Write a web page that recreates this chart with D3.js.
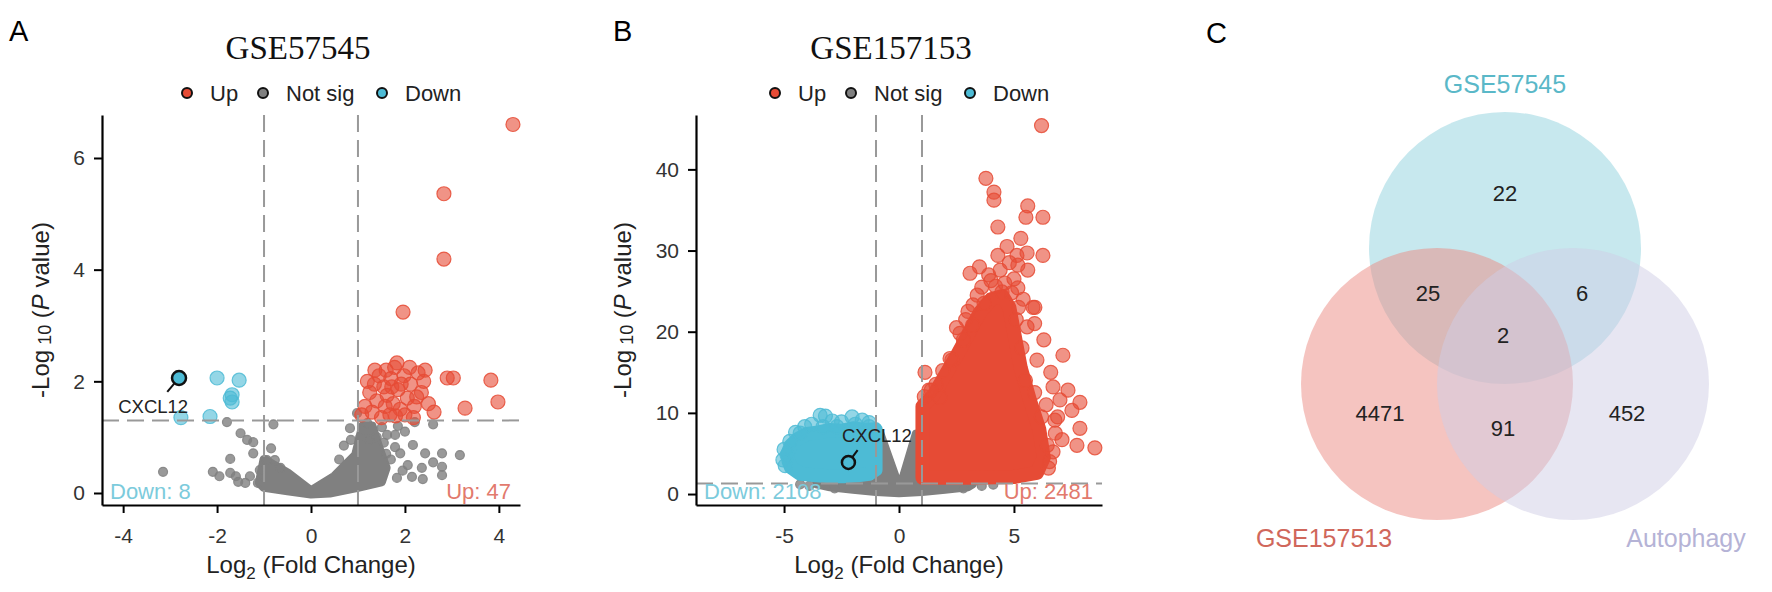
<!DOCTYPE html>
<html>
<head>
<meta charset="utf-8">
<script src="https://cdn.jsdelivr.net/npm/d3@7"></script>
<style>
body { margin: 0; background: #fff; }
text { font-family: "Liberation Sans", Arial, sans-serif; }
</style>
</head>
<body>
<script>
// values: [log2 fold change, -log10 p]

var legendLabels = ["Up", "Not sig", "Down"];
var panelTitles = ["GSE57545", "GSE157153"];
var panelLetters = ["A", "B", "C"];

var xTicksA = [-4, -2, 0, 2, 4];
var yTicksA = [0, 2, 4, 6];
var xTicksB = [-5, 0, 5];
var yTicksB = [0, 10, 20, 30, 40];

var fcCut = 1, pCut = 1.3;
var countsA = [8, 47];      // down, up
var countsB = [2108, 2481]; // down, up

// GSE57545
var upA = [
	[4.3, 6.6], [2.83, 5.36], [2.83, 4.19], [1.96, 3.24], [3.83, 2.02], [3.98, 1.63],
	[2.9, 2.06], [3.03, 2.06], [3.28, 1.52], [2.62, 1.45], [1.83, 2.33], [1.36, 2.2],
	[2.43, 2.2], [1.2, 2.0], [1.15, 1.55], [1.3, 1.45], [1.45, 2.1], [1.55, 1.9],
	[1.62, 1.75], [1.7, 2.05], [1.75, 1.6], [1.85, 1.85], [1.9, 1.5], [1.98, 2.1],
	[2.05, 1.7], [2.12, 1.95], [2.2, 1.55], [2.28, 2.15], [2.35, 1.8], [1.25, 1.8],
	[1.4, 1.65], [1.5, 1.35], [1.6, 2.2], [1.68, 1.4], [1.78, 2.25], [1.92, 1.95],
	[2.0, 1.4], [2.1, 2.25], [2.18, 1.35], [2.5, 1.6], [1.35, 1.95], [1.08, 1.4],
	[1.58, 1.55], [1.8, 1.38], [2.25, 1.72], [1.72, 1.9], [2.4, 2.0]
];
var downA = [
	[-2.0, 2.06], [-1.53, 2.02], [-1.68, 1.76], [-1.68, 1.63], [-1.72, 1.7],
	[-2.77, 1.35], [-2.15, 1.37], [-2.81, 2.06]
];
var notSigA = [
	[-3.15, 0.38], [-2.09, 0.38], [-1.72, 0.61], [-1.72, 0.36], [-1.55, 0.2], [-1.4, 0.18],
	[-1.13, 0.18], [-1.23, 0.71], [-1.5, 1.07], [-1.36, 0.95], [-1.23, 0.91], [-1.79, 1.27],
	[-0.8, 1.23], [-0.94, 0.59], [-0.77, 0.59], [-1.09, 0.41], [-1.95, 0.3], [-1.6, 0.3],
	[-0.65, 0.45], [-0.85, 0.8], [-1.3, 0.3],
	[2.21, 1.27], [2.6, 1.23], [2.17, 0.86], [2.43, 0.71], [2.79, 0.71], [3.17, 0.68],
	[2.06, 0.5], [2.36, 0.45], [2.79, 0.47], [2.15, 0.29], [2.38, 0.25], [2.79, 0.32],
	[1.83, 0.27], [1.79, 0.82], [1.62, 1.04], [1.79, 1.04], [1.9, 0.71], [0.83, 1.16],
	[0.98, 1.43], [1.51, 1.18], [1.7, 0.6], [1.55, 0.9], [2.0, 1.1], [1.95, 0.4],
	[1.4, 1.0], [1.25, 0.95], [0.7, 0.85], [0.85, 0.95], [1.85, 1.2], [1.05, 1.0],
	[1.2, 1.25], [0.6, 0.6], [1.6, 0.7], [2.6, 0.55]
];
// outline of the solid mass of overlapping grey points (point centres)
var notSigCoreA = [
	[-1.1, 0.18], [-1.0, 0.6], [-0.5, 0.36], [0, 0.04], [0.5, 0.3], [0.95, 0.68],
	[1.1, 1.2], [1.3, 1.2], [1.45, 0.8], [1.6, 0.45], [1.5, 0.2], [1.0, 0.1],
	[0.4, 0.0], [0, -0.02], [-0.5, 0.04], [-1.0, 0.1]
];
var cxclA = [[-2.81, 2.06], [-3.06, 1.81], [-3.36, 1.43]]; // gene, line end, label

// GSE157153
var upB = [
	[6.2, 45.4], [3.78, 38.9], [4.13, 37.2], [4.13, 36.2], [5.6, 35.5], [5.52, 34.1],
	[6.26, 34.1], [4.3, 32.9], [4.3, 29.4], [5.13, 29.4], [5.57, 29.7], [6.26, 29.4],
	[3.09, 27.2], [4.4, 27.6], [5.17, 28.2], [5.6, 27.6], [4.48, 24.9], [5.17, 25.4],
	[5.91, 23.0], [3.22, 23.3], [4.6, 26.0], [5.0, 26.5], [3.6, 25.5], [3.9, 27.0],
	[4.8, 28.5], [5.4, 24.0], [2.5, 20.5], [2.9, 21.5], [3.4, 24.5], [5.83, 23.0],
	[5.57, 20.6], [2.65, 19.8], [2.22, 16.7], [1.13, 15.0], [1.78, 11.9], [1.1, 12.0],
	[1.6, 13.5], [1.3, 12.8], [7.13, 17.1], [6.7, 13.2], [7.35, 12.8], [7.87, 11.3],
	[7.0, 11.6], [7.52, 10.3], [6.78, 9.1], [7.87, 8.1], [7.09, 6.7], [7.74, 6.0],
	[8.52, 5.7], [6.7, 5.2], [6.3, 19.0], [6.0, 16.5], [6.6, 15.0], [6.9, 9.5],
	[6.4, 11.0], [6.8, 7.5], [6.5, 3.2], [5.9, 21.0], [4.7, 30.5], [3.5, 28.0], [5.3, 31.5],
	[1.4, 12.8], [1.9, 15.2], [2.3, 16.5], [2.8, 19.0], [3.2, 20.8], [3.7, 23.5],
	[4.2, 25.6], [4.9, 24.8], [5.1, 21.5], [5.35, 18.0], [5.5, 14.0], [5.9, 12.5],
	[6.2, 9.5], [6.45, 6.0], [6.55, 4.0], [3.0, 22.5], [4.0, 26.3], [5.2, 23.0]
];
var upCoreB = [
	[1.02, 2.0], [1.02, 10.8], [1.5, 12.2], [2.0, 14.6], [2.5, 17.0], [3.0, 19.6],
	[3.5, 22.3], [4.0, 24.0], [4.5, 24.4], [4.8, 23.0], [5.0, 20.0], [5.3, 15.5],
	[5.7, 11.5], [6.1, 8.0], [6.3, 4.5], [6.0, 2.6], [5.0, 2.1], [3.0, 2.0]
];
var downB = [
	[-3.43, 9.7], [-3.2, 9.6], [-2.04, 9.5], [-2.9, 9.0], [-1.6, 9.1], [-4.1, 8.3],
	[-4.87, 4.8], [-5.05, 4.2], [-4.95, 3.5], [-2.5, 8.9], [-1.3, 8.8], [-4.5, 7.6], [-3.8, 8.6],
	[-1.3, 8.3], [-1.9, 8.6], [-2.7, 8.3], [-3.3, 8.3], [-4.3, 7.5], [-4.75, 6.5], [-5.0, 5.5]
];
var downCoreB = [
	[-1.02, 8.0], [-1.5, 7.9], [-2.0, 8.1], [-2.5, 7.8], [-3.0, 7.9], [-3.5, 7.6],
	[-4.0, 7.4], [-4.4, 6.8], [-4.7, 6.0], [-4.85, 5.0], [-4.8, 4.0], [-4.7, 3.3],
	[-4.3, 2.5], [-3.6, 2.3], [-3.0, 2.2], [-2.4, 2.2], [-1.8, 2.3], [-1.3, 2.5], [-1.02, 3.0]
];
var notSigB = [
	[-3.9, 1.0], [-4.3, 1.2], [3.6, 1.0], [4.1, 1.15], [2.8, 0.7], [-2.8, 0.7]
];
var notSigCoreB = [
	[-0.95, 7.6], [-0.85, 7.6], [-0.05, 1.2], [0.1, 1.2], [0.75, 7.4], [0.95, 7.4],
	[0.95, 1.25], [3.2, 1.25], [3.0, 0.9], [2.0, 0.6], [1.0, 0.3], [0, 0.15],
	[-1.0, 0.3], [-2.0, 0.6], [-3.0, 0.9], [-3.6, 1.25], [-0.95, 1.25]
];
var cxclB = [[-2.2, 3.9], [-1.8, 5.4], [-0.96, 6.4]];

// Venn
var vennSets = ["GSE57545", "GSE157513", "Autophagy"];
var vennCounts = [22, 25, 6, 2, 4471, 91, 452];

var col = {up: "#E64B35", ns: "#808080", down: "#4DBBD5"};

var svg = d3.select("body")
	.append("svg")
	.attr("width", 1772)
	.attr("height", 592);

//panel letters
svg.append("text").attr("x", 9).attr("y", 41).attr("font-size", 29).text(panelLetters[0]);
svg.append("text").attr("x", 613).attr("y", 41).attr("font-size", 29).text(panelLetters[1]);
svg.append("text").attr("x", 1206).attr("y", 43).attr("font-size", 29).text(panelLetters[2]);

volcano({
	left: 102, right: 520, xDomain: [-4.45, 4.45], yDomain: [-0.215, 6.77],
	xTicks: xTicksA, yTicks: yTicksA, title: panelTitles[0], titleX: 298,
	legendX: 187, ylabX: 40, up: upA, down: downA, ns: notSigA, nsCore: notSigCoreA,
	counts: countsA, cxcl: cxclA, ringR: 7
});

volcano({
	left: 696, right: 1102, xDomain: [-8.83, 8.83], yDomain: [-1.35, 46.7],
	xTicks: xTicksB, yTicks: yTicksB, title: panelTitles[1], titleX: 891,
	legendX: 775, ylabX: 622, up: upB, upCore: upCoreB, down: downB, downCore: downCoreB,
	ns: notSigB, nsCore: notSigCoreB, counts: countsB, cxcl: cxclB, ringR: 6.5
});

venn();

function volcano(c)
{// one volcano panel
	var top = 115, bottom = 505;
	var g = svg.append("g");
	var x = d3.scaleLinear().domain(c.xDomain).range([c.left, c.right]);
	var y = d3.scaleLinear().domain(c.yDomain).range([bottom, top]);
	var line = d3.line()
		.x(d => x(d[0]))
		.y(d => y(d[1]))
		.curve(d3.curveLinearClosed);

	function core(pts, colr, r) { // solid mass of overlapping dots
		if (!pts) return;
		g.append("path")
			.attr("d", line(pts))
			.attr("fill", colr)
			.attr("stroke", colr)
			.attr("stroke-width", 2 * r)
			.attr("stroke-linejoin", "round");
	}
	function dots(pts, colr, r, op) {
		g.append("g").selectAll("circle")
			.data(pts)
			.enter()
			.append("circle")
			.attr("cx", d => x(d[0]))
			.attr("cy", d => y(d[1]))
			.attr("r", r)
			.attr("fill", colr)
			.attr("fill-opacity", op)
			.attr("stroke", colr)
			.attr("stroke-opacity", 0.85)
			.attr("stroke-width", 1.2);
	}

	core(c.nsCore, col.ns, 4.5);
	dots(c.ns, col.ns, 4.5, 0.8);
	core(c.downCore, col.down, 7);
	dots(c.down, col.down, 7, 0.6);
	core(c.upCore, col.up, 7);
	dots(c.up, col.up, 7, 0.6);

	// threshold lines
	var dash = "17,8";
	[-fcCut, fcCut].forEach(v => {
		g.append("line")
			.attr("x1", x(v)).attr("x2", x(v))
			.attr("y1", top).attr("y2", bottom)
			.attr("stroke", "#999").attr("stroke-width", 2)
			.attr("stroke-dasharray", dash);
	});
	g.append("line")
		.attr("x1", c.left).attr("x2", c.right)
		.attr("y1", y(pCut)).attr("y2", y(pCut))
		.attr("stroke", "#999").attr("stroke-width", 2)
		.attr("stroke-dasharray", dash);

	// CXCL12 label
	var cx = c.cxcl;
	g.append("line")
		.attr("x1", x(cx[0][0])).attr("y1", y(cx[0][1]))
		.attr("x2", x(cx[1][0])).attr("y2", y(cx[1][1]))
		.attr("stroke", "#111").attr("stroke-width", 2);
	g.append("circle")
		.attr("cx", x(cx[0][0])).attr("cy", y(cx[0][1]))
		.attr("r", c.ringR)
		.attr("fill", col.down)
		.attr("stroke", "#111").attr("stroke-width", 2.5);
	g.append("text")
		.attr("x", x(cx[2][0])).attr("y", y(cx[2][1]))
		.attr("text-anchor", "middle")
		.attr("font-size", 18.5)
		.attr("fill", "#222")
		.text("CXCL12");

	// counts
	g.append("text")
		.attr("x", c.left + 8).attr("y", bottom - 6)
		.attr("font-size", 22)
		.attr("fill", "#7ccbdc")
		.text("Down: " + c.counts[0]);
	g.append("text")
		.attr("x", c.right - 9).attr("y", bottom - 6)
		.attr("text-anchor", "end")
		.attr("font-size", 22)
		.attr("fill", "#e27a6d")
		.text("Up: " + c.counts[1]);

	// axes
	var xa = g.append("g")
		.attr("transform", "translate(0," + bottom + ")")
		.call(d3.axisBottom(x).tickValues(c.xTicks).tickSize(8).tickSizeOuter(0)
			.tickPadding(15).tickFormat(d => String(d)));
	var ya = g.append("g")
		.attr("transform", "translate(" + c.left + ",0)")
		.call(d3.axisLeft(y).tickValues(c.yTicks).tickSize(8).tickSizeOuter(0)
			.tickPadding(9).tickFormat(d => String(d)));
	[xa, ya].forEach(a => {
		a.attr("font-size", 21);
		a.select(".domain").attr("stroke", "#000").attr("stroke-width", 2.2);
		a.selectAll(".tick line").attr("stroke", "#000").attr("stroke-width", 2);
		a.selectAll(".tick text").attr("fill", "#333");
	});

	// axis titles
	var xt = g.append("text")
		.attr("x", (c.left + c.right) / 2).attr("y", 573)
		.attr("text-anchor", "middle")
		.attr("font-size", 24)
		.attr("fill", "#222");
	xt.append("tspan").text("Log");
	xt.append("tspan").attr("font-size", 17).attr("dy", 6).text("2");
	xt.append("tspan").attr("dy", -6).text(" (Fold Change)");

	var yt = g.append("text")
		.attr("transform", "translate(" + c.ylabX + "," + (top + bottom) / 2 + ") rotate(-90)")
		.attr("text-anchor", "middle")
		.attr("dominant-baseline", "central")
		.attr("font-size", 24)
		.attr("fill", "#222");
	yt.append("tspan").text("-Log");
	yt.append("tspan").attr("font-size", 18).attr("dy", 5).text(" 10");
	yt.append("tspan").attr("dy", -5).text(" (");
	yt.append("tspan").attr("font-style", "italic").text("P");
	yt.append("tspan").text(" value)");

	// title
	g.append("text")
		.attr("x", c.titleX).attr("y", 59)
		.attr("text-anchor", "middle")
		.style("font-family", "'Liberation Serif', 'Times New Roman', serif")
		.attr("font-size", 33)
		.attr("fill", "#111")
		.text(c.title);

	// legend
	var lgCols = [col.up, col.ns, col.down];
	var lgStep = [0, 76, 195];
	var lg = g.append("g").attr("transform", "translate(" + c.legendX + ",93)");
	legendLabels.forEach((t, i) => {
		lg.append("circle")
			.attr("cx", lgStep[i]).attr("cy", 0).attr("r", 5)
			.attr("fill", lgCols[i])
			.attr("stroke", "#111").attr("stroke-width", 2);
		lg.append("text")
			.attr("x", lgStep[i] + 23).attr("y", 0)
			.attr("dominant-baseline", "central")
			.attr("font-size", 22)
			.attr("fill", "#222")
			.text(t);
	});
}// End volcano

function venn()
{// three set venn diagram
	var r = 136, cx = 1505, cy = 339;
	var centres = [[cx, cy - 91], [cx - 68, cy + 45], [cx + 68, cy + 45]];
	var fills = ["#8fd1dd", "#eb8981", "#cfcde5"];
	var textCols = ["#5ab8c8", "#d0675b", "#b5b3d6"];
	var g = svg.append("g");

	g.selectAll("circle")
		.data(centres)
		.enter()
		.append("circle")
		.attr("cx", d => d[0])
		.attr("cy", d => d[1])
		.attr("r", r)
		.attr("fill", (d, i) => fills[i])
		.attr("fill-opacity", 0.5);

	// region label spots, relative to centre of the three circles
	var spots = [[0, -146], [-77, -46], [77, -46], [-2, -4], [-125, 74], [-2, 89], [122, 74]];
	g.selectAll("text.count")
		.data(vennCounts)
		.enter()
		.append("text")
		.attr("class", "count")
		.attr("x", (d, i) => cx + spots[i][0])
		.attr("y", (d, i) => cy + spots[i][1])
		.attr("text-anchor", "middle")
		.attr("dominant-baseline", "central")
		.attr("font-size", 22)
		.attr("fill", "#222")
		.text(d => d);

	var namePos = [[cx, 93], [1324, 547], [1686, 547]];
	vennSets.forEach((s, i) => {
		g.append("text")
			.attr("x", namePos[i][0]).attr("y", namePos[i][1])
			.attr("text-anchor", "middle")
			.attr("font-size", 25)
			.attr("fill", textCols[i])
			.text(s);
	});
}// End venn
</script>
</body>
</html>
